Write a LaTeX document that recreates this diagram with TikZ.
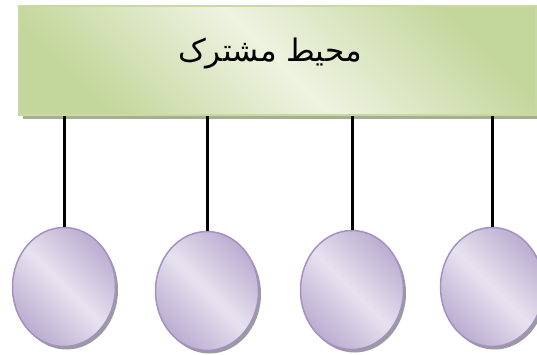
\documentclass[tikz,border=0pt]{standalone}
\usepackage{fontspec}
\newfontfamily\arabicfont[Script=Arabic]{DejaVu Sans}
\TeXXeTstate=1
\usepackage{tikz}
\usetikzlibrary{shapes.geometric, shadows}
\definecolor{busdark}{HTML}{C3D69B}
\definecolor{buslight}{HTML}{EEF3E1}
\definecolor{busedge}{HTML}{C8D9A6}
\definecolor{busshadow}{HTML}{A6AF93}
\definecolor{stdark}{HTML}{BBADD0}
\definecolor{stlight}{HTML}{E7E2EF}
\definecolor{stedge}{HTML}{A490C3}
\definecolor{stshadow}{HTML}{9C9A9E}

\begin{document}
\begin{tikzpicture}[x=1pt, y=-1pt,
  busbox/.style={rectangle, draw=busedge, line width=1.5pt, minimum width=517pt, minimum height=109pt,
    shading=axis, top color=busdark, bottom color=busdark, middle color=buslight, shading angle=-45,
    drop shadow={fill=busshadow, opacity=1, shadow xshift=4pt, shadow yshift=-4pt}},
  station/.style={ellipse, draw=stedge, line width=1.5pt, minimum width=103pt, minimum height=119pt, inner sep=0pt,
    shading=axis, top color=stdark, bottom color=stdark, middle color=stlight, shading angle=-45,
    drop shadow={fill=stshadow, opacity=1, shadow xshift=2.5pt, shadow yshift=-3pt}},
  wire/.style={line width=3pt, black}]
  \useasboundingbox (0,0) rectangle (537,354);
  \clip (0,0) rectangle (537,354);
  \node[busbox] (bus) at (277.5,60.5) {};
  \node[font=\fontsize{31}{36}\selectfont] (title) at (270,54) {\arabicfont\beginR محیط مشترک\endR};
  \node[station] (st1) at (64,287) {};
  \node[station] (st2) at (207,291) {};
  \node[station] (st3) at (352,290) {};
  \node[station] (st4) at (492,287) {};
  \foreach \s in {st1, st2, st3, st4}
    \draw[wire] (\s.north) -- (\s.north |- bus.south);
\end{tikzpicture}
\end{document}
